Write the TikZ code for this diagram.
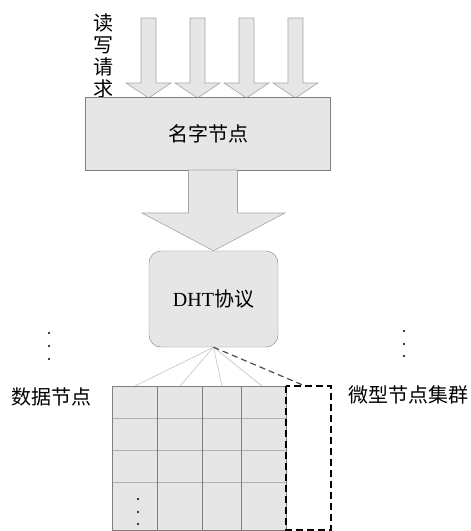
\documentclass[tikz,border=0pt]{standalone}
\usepackage{fontspec}
\setmainfont{Liberation Serif}
\newfontfamily\cjk{Noto Sans CJK SC}
\usetikzlibrary{calc}

\definecolor{boxgray}{HTML}{E6E6E6}
\definecolor{edgegray}{HTML}{7F7F7F}
\definecolor{fangray}{HTML}{B8B8B8}

\tikzset{
  box/.style={draw=edgegray, fill=boxgray, inner sep=0pt, font=\fontsize{20}{24}\selectfont},
  fatarrow/.style={draw=edgegray!70, fill=boxgray, line width=0.6pt},
  txt/.style={font=\fontsize{20}{22}\selectfont\cjk, inner sep=0pt},
  colline/.style={draw=edgegray, line width=0.7pt},
  rowline/.style={draw=edgegray!60, line width=0.7pt},
  fanline/.style={draw=fangray, line width=0.5pt},
  dashbox/.style={draw=black, line width=1.6pt, dash pattern=on 7pt off 4pt},
}

\begin{document}
\begin{tikzpicture}[x=1pt,y=-1pt]
  \useasboundingbox (0,0) rectangle (471,531);

  % read/write requests
  \foreach \x in {148.5,197.5,246.5,295.5}
    {
      \draw[fatarrow] (\x-7.5,18) -- (\x+7.5,18) -- (\x+7.5,83) -- (\x+22.5,83)
        -- (\x,98) -- (\x-22.5,83) -- (\x-7.5,83) -- cycle;
    }
  \node[txt, align=center] (req) at (103,56) {读\\写\\请\\求};

  \node[box, minimum width=245pt, minimum height=73pt] (name) at (208,133.5) {\cjk 名字节点};

  \node[box, rounded corners=12pt, minimum width=129pt, minimum height=96pt] (dht) at (213.5,299) {DHT{\cjk 协议}};

  % big arrow
  \draw[fatarrow] (188.5,170) -- (237.5,170) -- (237.5,213) -- (285,213)
    -- (dht.north) -- (142,213) -- (188.5,213) -- cycle;

  % data nodes
  \fill[boxgray] (112,386) rectangle (286,530);
  \foreach \y in {418,450,482}
    \draw[rowline] (112,\y) -- (286,\y);
  \foreach \x in {157,202,241}
    \draw[colline] (\x,386) -- (\x,530);
  \draw[colline] (112,386) rectangle (286,530);
  \draw[dashbox] (286,386) rectangle (331,530);

  \coordinate (f1) at (135,386);
  \coordinate (f2) at (180,386);
  \coordinate (f3) at (222,386);
  \coordinate (f4) at (262,386);
  \coordinate (f5) at (305,386);
  \foreach \i in {1,...,4}
    \draw[fanline] (dht.south) -- (f\i);
  \draw[draw=black!70, line width=1.2pt, dash pattern=on 6pt off 4pt] (dht.south) -- (f5);

  % dots
  \foreach \y in {333,346,359}
    \fill (49,\y) circle (1.1pt);
  \foreach \y in {331,344,356}
    \fill (404,\y) circle (1.1pt);
  \foreach \y in {499,512,524}
    \fill (138,\y) circle (1.1pt);

  \node[txt] (data) at (51.5,397) {数据节点};
  \node[txt] (micro) at (408,395) {微型节点集群};
\end{tikzpicture}
\end{document}
